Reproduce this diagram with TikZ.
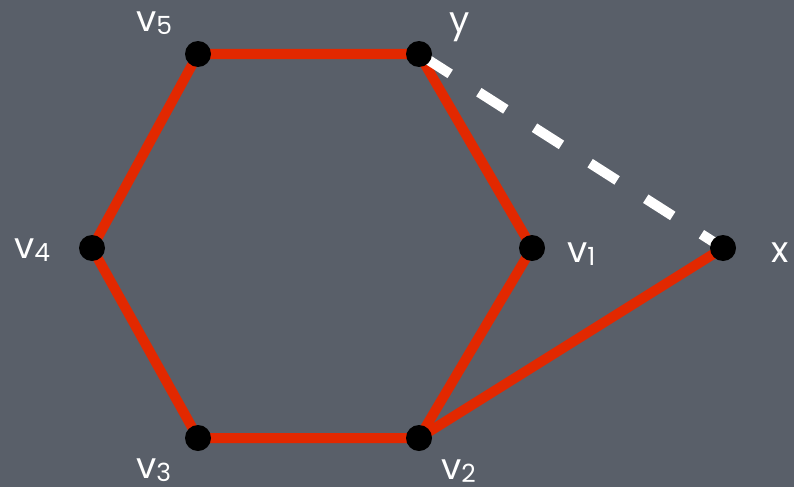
\documentclass[tikz,border=0pt]{standalone}
\usepackage{fontspec}
\setmainfont{Poppins}
\usetikzlibrary{backgrounds}
\definecolor{slate}{RGB}{89,95,105}
\definecolor{edgered}{RGB}{226,40,0}
\newcommand{\lbl}[2]{#1\raisebox{-3pt}{\fontsize{25}{25}\selectfont #2}}
\tikzset{
  dot/.style={circle,fill=black,minimum size=26pt,inner sep=0pt},
  edge/.style={edgered,line width=10pt},
  dashedge/.style={white,line width=10pt,dash pattern=on 32pt off 34pt,dash phase=61pt},
  lab/.style={text=white,anchor=base west,inner sep=0pt,font=\fontsize{36}{36}\selectfont}
}
\begin{document}
\begin{tikzpicture}[x=1pt,y=-1pt]
\useasboundingbox (0,0) rectangle (794,487);
\node[dot] (v5) at (198,54) {};
\node[dot] (y)  at (419,54) {};
\node[dot] (v1) at (532,248) {};
\node[dot] (v2) at (419,438) {};
\node[dot] (v3) at (198,438) {};
\node[dot] (v4) at (92,248) {};
\node[dot] (x)  at (723,248) {};
\begin{scope}[on background layer]
\fill[slate] (0,0) rectangle (794,487);
\draw[edge,line join=miter] (v5.center) -- (y.center) -- (v1.center) -- (v2.center) -- (v3.center) -- (v4.center) -- cycle;
\draw[edge] (v2.center) -- (x.center);
\draw[dashedge] (y.center) -- (x.center);
\end{scope}
\node[lab] (l5) at (136,32) {\lbl{v}{5}};
\node[lab] (ly) at (449,33) {y};
\node[lab] (l1) at (567,262) {\lbl{v}{1}};
\node[lab] (lx) at (771,262) {x};
\node[lab] (l2) at (441,479) {\lbl{v}{2}};
\node[lab] (l4) at (14,258) {\lbl{v}{4}};
\node[lab] (l3) at (136,478) {\lbl{v}{3}};
\end{tikzpicture}
\end{document}
